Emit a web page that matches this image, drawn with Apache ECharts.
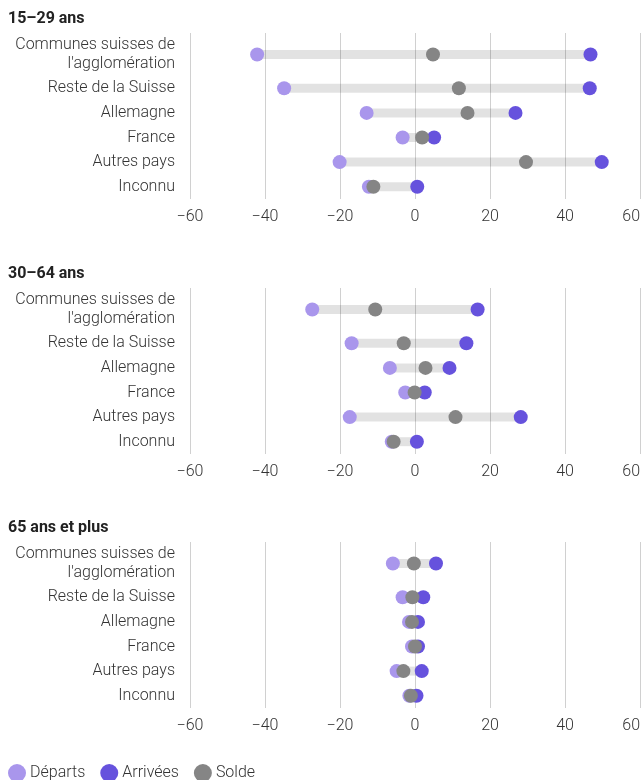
<!DOCTYPE html>
<html>
<head>
<meta charset="utf-8">
<script src="https://cdn.jsdelivr.net/npm/echarts@6/dist/echarts.min.js"></script>
<style>
html,body{margin:0;padding:0;background:#fff;}
#chart{width:643px;height:780px;}
</style>
</head>
<body>
<div id="chart"></div>
<script>
const panelTitles = ['15–29 ans', '30–64 ans', '65 ans et plus'];
const categories = ['Communes suisses de\nl\'agglomération', 'Reste de la Suisse', 'Allemagne', 'France', 'Autres pays', 'Inconnu'];

const departs1529  = [-42.1, -34.9, -12.9, -3.3, -20.1, -12.3];
const arrivees1529 = [46.8, 46.6, 26.8, 5.1, 49.8, 0.6];
const solde1529    = [4.8, 11.7, 14.0, 1.9, 29.6, -11.1];

const departs3064  = [-27.4, -16.9, -6.7, -2.6, -17.4, -6.2];
const arrivees3064 = [16.7, 13.7, 9.2, 2.6, 28.2, 0.5];
const solde3064    = [-10.6, -3.0, 2.8, -0.1, 10.8, -5.7];

const departs65  = [-5.9, -3.3, -1.6, -0.8, -4.9, -1.5];
const arrivees65 = [5.6, 2.2, 0.8, 0.8, 1.8, 0.4];
const solde65    = [-0.3, -0.7, -0.8, 0.0, -3.1, -1.1];

const xTicks = {min: -60, max: 60, interval: 20};

const panels = [
  {dep: departs1529, arr: arrivees1529, sol: solde1529},
  {dep: departs3064, arr: arrivees3064, sol: solde3064},
  {dep: departs65, arr: arrivees65, sol: solde65}
];

const COL_DEP = '#a996ec';
const COL_ARR = '#6652dd';
const COL_SOL = '#858585';
const FONT = 'Roboto, "Noto Sans", sans-serif';

const panelTops = [33, 288, 542];
const firstRowH = 43;
const rowH = 24.6;

const grids = [], xAxes = [], yAxes = [], series = [], titles = [];

panels.forEach((p, pi) => {
  const top = panelTops[pi];
  titles.push({
    text: panelTitles[pi], left: 8, top: top - 22, padding: 0,
    textStyle: {fontFamily: FONT, fontSize: 16, fontWeight: 'bold', color: '#222'}
  });
  const parts = [
    {cats: categories.slice(0, 1), start: 0, top: top, height: firstRowH, showLabels: false},
    {cats: categories.slice(1), start: 1, top: top + firstRowH, height: rowH * 5, showLabels: true}
  ];
  parts.forEach(part => {
    const gi = grids.length;
    grids.push({left: 190, right: 3, top: part.top, height: part.height, containLabel: false});
    xAxes.push({
      type: 'value', gridIndex: gi, min: xTicks.min, max: xTicks.max, interval: xTicks.interval,
      axisLine: {show: false}, axisTick: {show: false},
      splitLine: {show: true, lineStyle: {color: '#d0d0d0', width: 1}},
      axisLabel: {
        show: part.showLabels, fontFamily: FONT, fontSize: 16, fontWeight: 300, color: '#333', margin: 10,
        alignMaxLabel: 'right',
        formatter: v => v < 0 ? '\u2212' + Math.abs(v) : String(v)
      }
    });
    yAxes.push({
      type: 'category', gridIndex: gi, data: part.cats, inverse: true,
      axisLine: {show: false}, axisTick: {show: false}, splitLine: {show: false},
      axisLabel: {fontFamily: FONT, fontSize: 16, fontWeight: 300, color: '#333', margin: 15, lineHeight: 19, align: 'right'}
    });
    const n = part.cats.length;
    const rangeData = [], depData = [], arrData = [], solData = [];
    for (let i = 0; i < n; i++) {
      const k = part.start + i;
      rangeData.push([Math.min(p.dep[k], p.arr[k]), Math.max(p.dep[k], p.arr[k]), i]);
      depData.push([p.dep[k], i]);
      arrData.push([p.arr[k], i]);
      solData.push([p.sol[k], i]);
    }
    series.push({
      type: 'custom', xAxisIndex: gi, yAxisIndex: gi, silent: true, z: 1,
      encode: {x: [0, 1], y: 2},
      renderItem: (params, api) => {
        const s = api.coord([api.value(0), api.value(2)]);
        const e = api.coord([api.value(1), api.value(2)]);
        return {type: 'rect', shape: {x: s[0], y: s[1] - 4.5, width: e[0] - s[0], height: 9},
                style: {fill: 'rgba(0,0,0,0.115)'}};
      },
      data: rangeData
    });
    const sc = (name, data, color, z) => ({
      name, type: 'scatter', xAxisIndex: gi, yAxisIndex: gi, data, symbol: 'circle', symbolSize: 14,
      itemStyle: {color, opacity: 1}, z, emphasis: {disabled: true}
    });
    series.push(sc('Départs', depData, COL_DEP, 2));
    series.push(sc('Arrivées', arrData, COL_ARR, 3));
    series.push(sc('Solde', solData, COL_SOL, 4));
  });
});

const chart = echarts.init(document.getElementById('chart'), null, {renderer: 'canvas'});
chart.setOption({
  animation: false,
  backgroundColor: '#fff',
  title: titles,
  grid: grids,
  xAxis: xAxes,
  yAxis: yAxes,
  legend: {
    data: ['Départs', 'Arrivées', 'Solde'],
    left: 3, top: 759, icon: 'circle', itemWidth: 18, itemHeight: 18, itemGap: 15,
    textStyle: {fontFamily: FONT, fontSize: 16, fontWeight: 300, color: '#333', padding: [0, 0, 0, -1]},
    selectedMode: false
  },
  series
});
</script>
</body>
</html>
